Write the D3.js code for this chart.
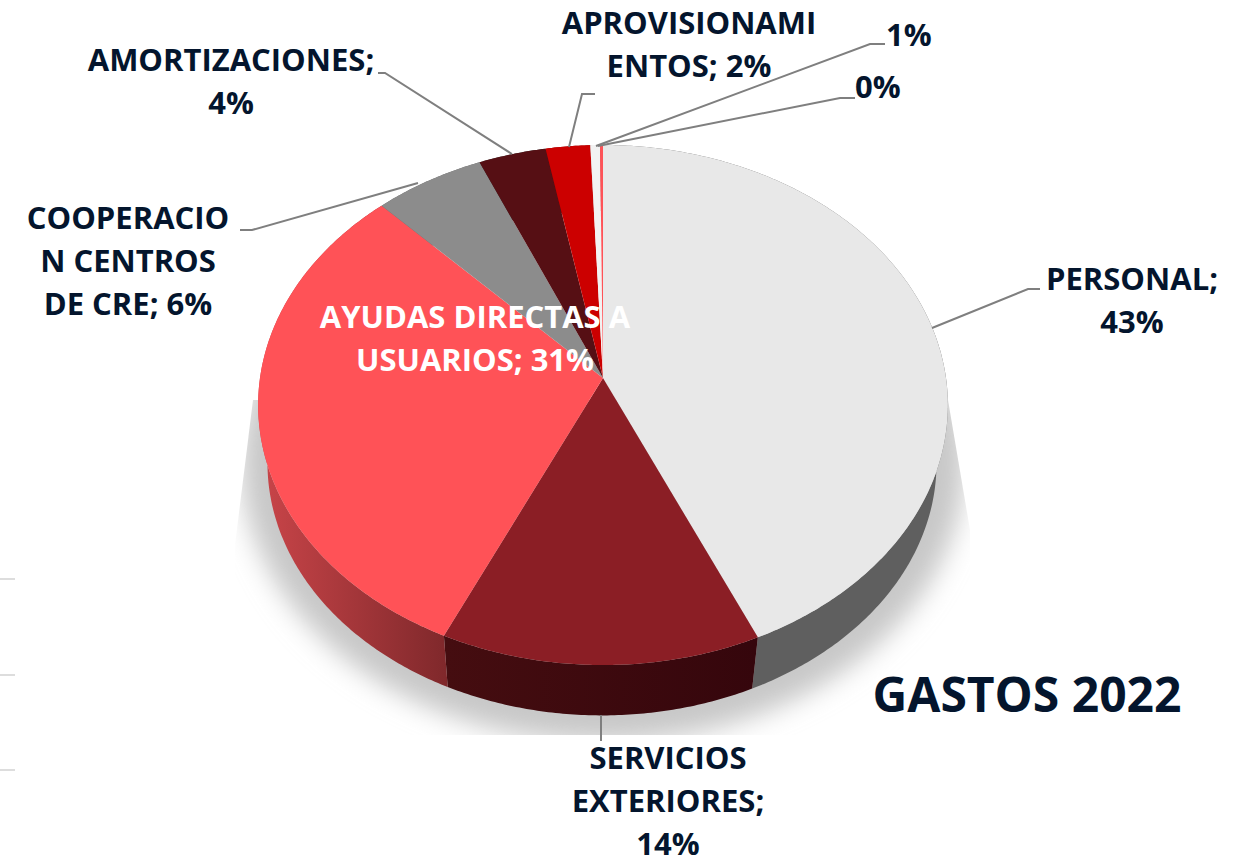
<!DOCTYPE html>
<html>
<head>
<meta charset="utf-8">
<script src="https://cdn.jsdelivr.net/npm/d3@7"></script>
<style>
  html, body { margin: 0; padding: 0; background: #fff; }
  svg { display: block; }
  text { font-family: "Open Sans", sans-serif; font-weight: 700; }
</style>
</head>
<body>
<script>
const CATEGORIES = ["PERSONAL", "SERVICIOS EXTERIORES", "AYUDAS DIRECTAS A USUARIOS", "COOPERACION CENTROS DE CRE", "AMORTIZACIONES", "APROVISIONAMIENTOS", "OTROS 1", "OTROS 2"]
const VALUES = [43.3, 13.6, 30.9, 5.75, 3.5, 2.3, 0.5, 0.15]
const TOP_COLORS = ["#e8e8e8", "#8b1e25", "#ff5257", "#8c8c8c", "#560f14", "#cc0000", "#f2f2f2", "#ff5257"]
const LABEL_LINES = [
  ["PERSONAL;", "43%"],
  ["SERVICIOS", "EXTERIORES;", "14%"],
  ["AYUDAS DIRECTAS A", "USUARIOS; 31%"],
  ["COOPERACIO", "N CENTROS", "DE CRE; 6%"],
  ["AMORTIZACIONES;", "4%"],
  ["APROVISIONAMI", "ENTOS; 2%"],
  ["1%"],
  ["0%"]
]
const TITLE = "GASTOS 2022"
const STRAY_TICKS = [579, 675, 770]

const width = 1238, height = 862
const ink = "#04152d"

// label placement, one per slice: text anchor + leader elbow points
const labelPos = [
  { x: 1132, y: 290, anchor: "middle", leader: [[932, 328], [1028, 289], [1040, 289]] },
  { x: 668, y: 769, anchor: "middle", leader: [[601, 715], [601, 741]] },
  { x: 475, y: 328, anchor: "middle", color: "#fff", leader: null },
  { x: 128, y: 229, anchor: "middle", leader: [[418, 183], [252, 230], [240, 230]] },
  { x: 231, y: 71, anchor: "middle", leader: [[512, 154], [385, 73], [378, 73]] },
  { x: 689, y: 34, anchor: "middle", leader: [[569, 147], [582, 94], [595, 94]] },
  { x: 886, y: 46, anchor: "start", leader: [[596, 146], [870, 44], [885, 44]] },
  { x: 855, y: 98, anchor: "start", leader: [[598, 146], [840, 98], [855, 98]] }
]

// perspective of the pie plane
const persp = 0.1039
const rimX = 343, rimY = 257.2
const topFace = { cx: 603, cy: 378, s: 1 }
const bottomFace = { cx: 602, cy: 437, s: 0.97 }

function project(angle, face) {
  const u = Math.sin(angle), v = Math.cos(angle)
  const w = 1 + persp * v
  return [face.cx + face.s * rimX * u / w, face.cy - face.s * rimY * v / w]
}

function arcPoints(a0, a1, face) {
  const n = Math.max(2, Math.ceil((a1 - a0) / 0.01))
  return d3.range(n + 1).map(i => project(a0 + (a1 - a0) * i / n, face))
}

const line = d3.line()
const slices = d3.pie().sort(null).value(d => d)(VALUES)

const svg = d3.select("body").append("svg")
  .attr("width", width)
  .attr("height", height)

const defs = svg.append("defs")

defs.append("filter").attr("id", "shadowBlur")
  .attr("x", "-10%").attr("y", "-10%").attr("width", "120%").attr("height", "120%")
  .append("feGaussianBlur").attr("stdDeviation", 13)

defs.append("clipPath").attr("id", "shadowClip")
  .append("path")
  .attr("d", "M253,400 L235,545 L235,735 L970,735 L970,530 L948,400 Z")

function wallGradient(id, from, to) {
  const g = defs.append("linearGradient").attr("id", id)
  g.append("stop").attr("offset", "0%").attr("stop-color", from)
  g.append("stop").attr("offset", "100%").attr("stop-color", to)
  return `url(#${id})`
}

const wallColors = [
  wallGradient("wall0", "#5f5f5f", "#5f5f5f"),
  wallGradient("wall1", "#450d10", "#35060c"),
  wallGradient("wall2", "#ca4549", "#7f282b"),
  "#666", "#333", "#800", "#bbb", "#c44"
]

// stray gridline remains on the left edge
svg.append("g").selectAll("line").data(STRAY_TICKS).join("line")
  .attr("x1", 0).attr("x2", 15)
  .attr("y1", d => d).attr("y2", d => d)
  .attr("stroke", "#ddd").attr("stroke-width", 2)

// shadow
svg.append("g").attr("clip-path", "url(#shadowClip)")
  .append("ellipse")
  .attr("cx", 603).attr("cy", 462).attr("rx", 362).attr("ry", 280)
  .attr("fill", "#c8c8c8")
  .attr("filter", "url(#shadowBlur)")

// side walls
svg.append("g").selectAll("path").data(slices).join("path")
  .attr("d", d => {
    const a = arcPoints(d.startAngle, d.endAngle, topFace)
    const b = arcPoints(d.startAngle, d.endAngle, bottomFace).reverse()
    return line(a.concat(b)) + "Z"
  })
  .attr("fill", (d, i) => wallColors[i])

// top faces
svg.append("g").selectAll("path").data(slices).join("path")
  .attr("d", d => line([[topFace.cx, topFace.cy]].concat(arcPoints(d.startAngle, d.endAngle, topFace))) + "Z")
  .attr("fill", (d, i) => TOP_COLORS[i])

// leaders
svg.append("g").selectAll("path")
  .data(labelPos.filter(d => d.leader))
  .join("path")
  .attr("d", d => line(d.leader))
  .attr("fill", "none")
  .attr("stroke", "#7f7f7f")
  .attr("stroke-width", 2)

// labels
const fontSize = 31, lineGap = 43
const labels = svg.append("g").selectAll("text").data(LABEL_LINES).join("text")
  .attr("font-size", fontSize)
  .attr("fill", (d, i) => labelPos[i].color || ink)
  .attr("text-anchor", (d, i) => labelPos[i].anchor)

labels.selectAll("tspan").data((d, i) => d.map((t, j) => ({ t, j, p: labelPos[i] }))).join("tspan")
  .attr("x", d => d.p.x)
  .attr("y", d => d.p.y + d.j * lineGap)
  .text(d => d.t)

svg.append("text")
  .attr("x", 1027).attr("y", 712)
  .attr("text-anchor", "middle")
  .attr("font-size", 48)
  .attr("fill", ink)
  .text(TITLE)
</script>
</body>
</html>
